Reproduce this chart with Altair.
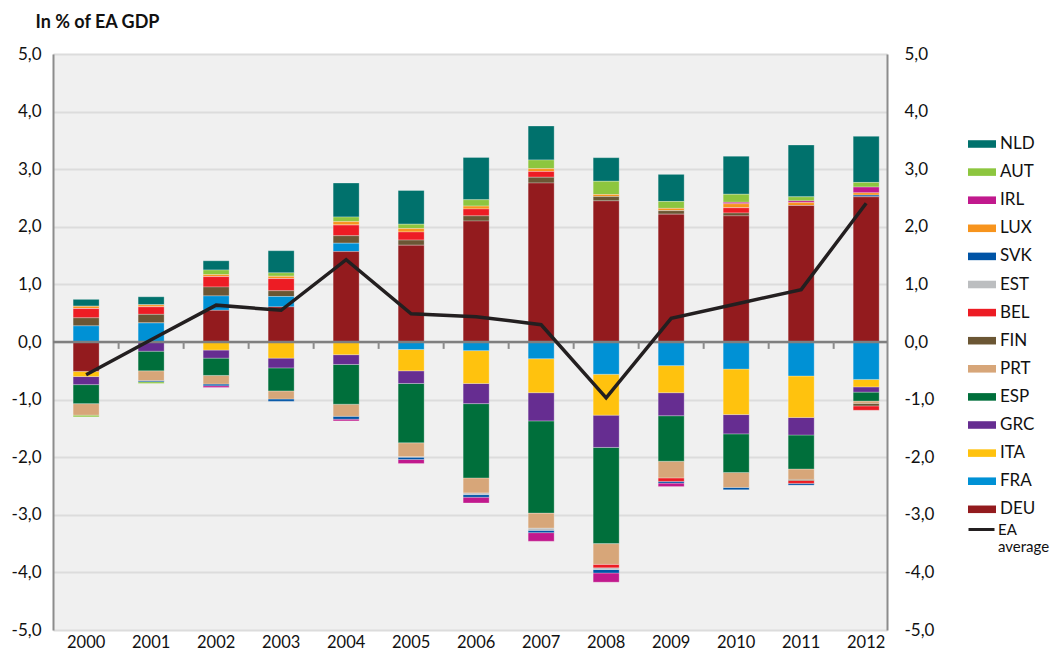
import altair as alt
import pandas as pd

years = [str(y) for y in range(2000, 2013)]

# legend order (top to bottom)
countries = ["NLD", "AUT", "IRL", "LUX", "SVK", "EST", "BEL", "FIN",
             "PRT", "ESP", "GRC", "ITA", "FRA", "DEU"]
colors = ["#00716C", "#8DC63F", "#C1198D", "#F7941D", "#0054A6", "#BCBEC0",
          "#ED1C24", "#6B5634", "#D7A679", "#006F3B", "#662D91", "#FFC20E",
          "#0091D5", "#931B1E"]

DEU = [-0.51, 0.00, 0.55, 0.61, 1.57, 1.68, 2.10, 2.76, 2.45, 2.22, 2.19, 2.37, 2.52]
FRA = [0.28, 0.33, 0.25, 0.18, 0.145, -0.13, -0.15, -0.29, -0.56, -0.41, -0.47, -0.59, -0.65]
ITA = [-0.09, 0.00, -0.14, -0.28, -0.22, -0.37, -0.57, -0.59, -0.71, -0.47, -0.79, -0.72, -0.13]
GRC = [-0.14, -0.16, -0.14, -0.17, -0.17, -0.22, -0.35, -0.49, -0.56, -0.40, -0.335, -0.305, -0.09]
ESP = [-0.33, -0.34, -0.30, -0.40, -0.69, -1.03, -1.29, -1.60, -1.67, -0.79, -0.67, -0.59, -0.155]
PRT = [-0.20, -0.17, -0.15, -0.14, -0.21, -0.24, -0.26, -0.26, -0.36, -0.29, -0.26, -0.18, -0.04]
FIN = [0.14, 0.15, 0.155, 0.10, 0.13, 0.09, 0.09, 0.10, 0.075, 0.06, 0.05, -0.02, -0.045]
BEL = [0.16, 0.13, 0.18, 0.21, 0.185, 0.14, 0.12, 0.10, -0.06, -0.06, 0.09, -0.05, -0.075]
EST = [0.00, 0.00, 0.00, 0.00, 0.00, -0.01, -0.03, -0.04, -0.03, 0.00, 0.00, 0.00, 0.00]
SVK = [0.00, -0.02, -0.03, -0.04, -0.05, -0.04, -0.045, -0.04, -0.06, -0.03, -0.04, -0.03, 0.03]
LUX = [0.04, 0.035, 0.035, 0.04, 0.06, 0.06, 0.05, 0.05, 0.035, 0.04, 0.07, 0.05, 0.04]
IRL = [0.00, 0.00, -0.03, 0.00, -0.03, -0.07, -0.10, -0.15, -0.16, -0.06, 0.025, 0.03, 0.10]
AUT = [-0.03, -0.03, 0.08, 0.06, 0.08, 0.075, 0.11, 0.15, 0.23, 0.12, 0.14, 0.07, 0.08]
NLD = [0.12, 0.14, 0.16, 0.385, 0.59, 0.585, 0.735, 0.59, 0.41, 0.47, 0.66, 0.90, 0.80]

ea_average = [-0.57, 0.04, 0.64, 0.55, 1.43, 0.49, 0.44, 0.30, -0.97, 0.41, 0.66, 0.91, 2.41]

series = {"NLD": NLD, "AUT": AUT, "IRL": IRL, "LUX": LUX, "SVK": SVK, "EST": EST,
          "BEL": BEL, "FIN": FIN, "PRT": PRT, "ESP": ESP, "GRC": GRC, "ITA": ITA,
          "FRA": FRA, "DEU": DEU}

rows = []
for c in countries:
    rank = len(countries) - 1 - countries.index(c)  # DEU nearest zero
    for y, v in zip(years, series[c]):
        rows.append({"year": y, "country": c, "value": v, "rank": rank})
df = pd.DataFrame(rows)
line_df = pd.DataFrame({"year": years, "ea": ea_average, "series": "EA average"})
tick_df = pd.DataFrame({"year": years[1:]})

FONT = "Lato"
label_expr = "replace(replace(format(datum.value, '.1f'), '.', ','), '\u2212', '-')"
ticks_vals = [-5, -4, -3, -2, -1, 0, 1, 2, 3, 4, 5]
yscale = alt.Scale(domain=[-5, 5], nice=False, zero=False)
xscale = alt.Scale(paddingInner=0.6, paddingOuter=0.215, align=0.72)

bars = alt.Chart(df).mark_bar(stroke="white", strokeWidth=0.6, strokeOpacity=0.45).encode(
    x=alt.X("year:N", scale=xscale, sort=years,
            axis=alt.Axis(title=None, labelAngle=0, labelFontSize=16.5, labelFont=FONT,
                          labelColor="#111111", domain=False, ticks=False, labelPadding=4,
                          grid=False)),
    y=alt.Y("value:Q", stack="zero", scale=yscale,
            axis=alt.Axis(values=ticks_vals, labelExpr=label_expr, labelFontSize=17,
                          labelFont=FONT, labelColor="#111111", ticks=False, labelPadding=12,
                          domainColor="#8C8C8C", domainWidth=2, grid=True,
                          gridColor="#DCDCDC", gridWidth=2,
                          title="In % of EA GDP", titleAngle=0, titleAlign="left",
                          titleBaseline="alphabetic", titleX=-18, titleY=-27,
                          titleFontSize=18, titleFont=FONT, titleFontWeight="bold",
                          titleColor="#111111")),
    color=alt.Color("country:N", scale=alt.Scale(domain=countries, range=colors),
                    legend=alt.Legend(title=None, orient="none", legendX=915, legendY=76,
                                      symbolType="M-1,-0.27L1,-0.27L1,0.27L-1,0.27Z",
                                      symbolSize=784, symbolStrokeWidth=0, labelFontSize=17,
                                      labelFont=FONT, labelColor="#111111", labelOffset=4,
                                      rowPadding=6.1, padding=0, symbolOpacity=1)),
    order=alt.Order("rank:Q", sort="ascending"),
)

zero = alt.Chart(line_df).mark_rule(color="#7F7F7F", strokeWidth=2.5).encode(
    y=alt.Y("z:Q", scale=yscale, axis=None)
).transform_calculate(z="0").transform_aggregate(z="min(z)")

zticks = alt.Chart(tick_df).mark_rule(color="#8C8C8C", strokeWidth=2, xOffset=-19.5).encode(
    x=alt.X("year:N", scale=xscale, sort=years, bandPosition=0, axis=None),
    y=alt.Y("t0:Q", scale=yscale, axis=None),
    y2="t1:Q",
).transform_calculate(t0="0", t1="-0.12")

line = alt.Chart(line_df).mark_line(color="#231F20", strokeWidth=3.5).encode(
    x=alt.X("year:N", scale=xscale, sort=years, axis=None),
    y=alt.Y("ea:Q", scale=yscale,
            axis=alt.Axis(orient="right", values=ticks_vals, labelExpr=label_expr,
                          labelFontSize=17, labelFont=FONT, labelColor="#111111",
                          ticks=False, labelPadding=17, domainColor="#8C8C8C",
                          domainWidth=2, grid=False, title=None)),
    stroke=alt.Stroke("series:N", scale=alt.Scale(domain=["EA average"], range=["#231F20"]),
                      legend=alt.Legend(title=None, orient="none", legendX=914, legendY=461,
                                        symbolType="stroke", symbolSize=676,
                                        symbolStrokeWidth=3, labelFontSize=15, labelFont=FONT,
                                        labelColor="#111111", labelOffset=2, padding=0,
                                        labelExpr="['EA', 'average']", labelBaseline="middle")),
)

chart = alt.layer(bars, zero, zticks, line).resolve_scale(y="independent").resolve_axis(
    x="independent").properties(
    width=834, height=576,
    autosize=alt.AutoSizeParams(type="none"),
    padding={"left": 45, "top": 46, "right": 166, "bottom": 26},
    background="white",
).configure_view(fill="#F0F0F0", strokeWidth=0)

chart.save("out.html", embed_options={"renderer": "svg", "actions": False})
